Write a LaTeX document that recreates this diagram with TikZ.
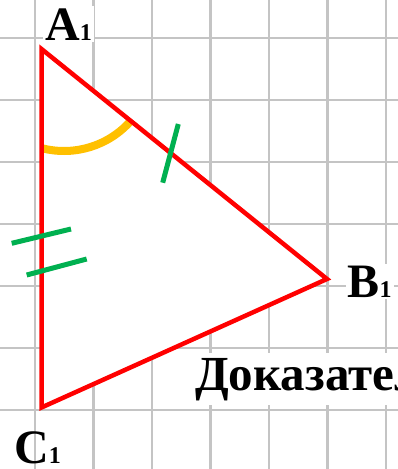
\documentclass[tikz,border=0pt]{standalone}
\usepackage{fontspec}
\setmainfont{Liberation Serif}
\definecolor{tickgreen}{HTML}{00B050}
\definecolor{arcorange}{HTML}{FFC000}
\definecolor{gridgray}{HTML}{C4C4C4}
\begin{document}
\begin{tikzpicture}[x=1pt,y=-1pt,
  gridline/.style={draw=gridgray, line width=2.6pt},
  side/.style={draw=red, line width=4.5pt, line join=miter},
  tickmark/.style={draw=tickgreen, line width=5pt},
  anglearc/.style={draw=arcorange, line width=8pt},
  vlabel/.style={font=\fontsize{48}{50}\selectfont\bfseries, inner xsep=2pt, inner ysep=2pt, anchor=base west}]
\useasboundingbox (0,0) rectangle (398,469);
\clip (0,0) rectangle (398,469);
\fill[white] (0,0) rectangle (398,469);
% grid
\foreach \gx in {35,93.5,152,210.5,269,327.5,386}
  \draw[gridline] (\gx,0) -- (\gx,469);
\foreach \gy in {38,100,162,224,286,348,410,472}
  \draw[gridline] (0,\gy) -- (398,\gy);
% labels
\node[vlabel, fill=white] (la) at (43,40) {A\fontsize{24}{24}\selectfont 1};
\node[vlabel, fill=white] (lb) at (345.5,297) {B\fontsize{24}{24}\selectfont 1};
\node[vlabel] (lc) at (12,463) {C\fontsize{24}{24}\selectfont 1};
\node[vlabel, fill=white, inner ysep=5pt, font=\fontsize{49}{50}\selectfont\bfseries] (proof) at (193,390) {Доказател};
% triangle
\coordinate (A) at (41.5,49);
\coordinate (B) at (327,279);
\coordinate (C) at (41.5,407.5);
\fill[white] (A) -- (B) -- (C) -- cycle;
\draw[anglearc] (43.1,148.5) arc[start angle=103.6, end angle=41.5, radius=89];
\draw[side] (A) -- (B) -- (C) -- cycle;
% equal-side ticks
\draw[tickmark] (178.3,124) -- (162.7,182.7);
\draw[tickmark] (11.7,243.3) -- (71,229);
\draw[tickmark] (26.7,275) -- (86.7,259);
\end{tikzpicture}
\end{document}
